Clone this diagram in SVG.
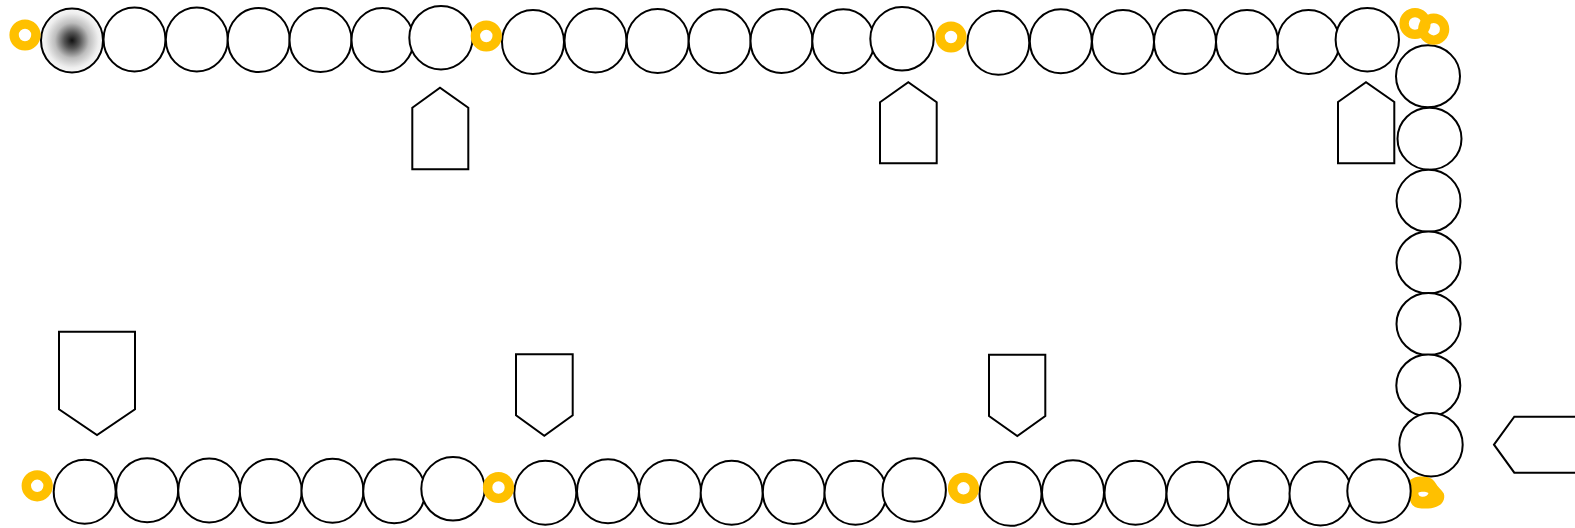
<svg xmlns="http://www.w3.org/2000/svg" width="1575" height="528" viewBox="0 0 1575 528">
<style>
.n{fill:#fff;stroke:#000;stroke-width:2}
.p{fill:#fff;stroke:#000;stroke-width:2;stroke-linejoin:miter}
.r{fill:none;stroke:#FFC000;stroke-width:9.4}
</style>
<defs>
<radialGradient id="g1" cx="0.5" cy="0.5" r="0.5">
<stop offset="0" stop-color="#111"/>
<stop offset="0.25" stop-color="#555"/>
<stop offset="0.55" stop-color="#bdbdbd"/>
<stop offset="0.85" stop-color="#eee"/>
<stop offset="1" stop-color="#f8f8f8"/>
</radialGradient>
</defs>
<rect width="1575" height="528" fill="#fff"/>
<g id="blob-br">
<path d="M1410,480 C1414,477 1418,476 1423,476.5 C1429,477 1433,478.5 1435.5,483 C1437.5,487 1441.5,489.5 1443.8,493.5 C1445.5,499 1442.5,504.5 1437,506.5 C1431,509 1424,509 1418,508 C1413.5,507 1411,504 1410,500 Z M1418.5,492.5 C1421,491.5 1426,491.5 1428.5,493 C1428,496 1424,497.5 1421,496.5 C1419,496 1418,494 1418.5,492.5 Z" fill="#FFC000" fill-rule="evenodd"/>
</g>
<g id="top-row">
<g id="t1"><ellipse class="n" cx="72" cy="40.5" rx="31" ry="32" style="fill:url(#g1)"/></g>
<g id="t2"><ellipse class="n" cx="134.5" cy="39.5" rx="31" ry="32"/></g>
<g id="t3"><ellipse class="n" cx="196.8" cy="39.5" rx="31" ry="32"/></g>
<g id="t4"><ellipse class="n" cx="258.7" cy="40" rx="31" ry="32"/></g>
<g id="t5"><ellipse class="n" cx="320.5" cy="40" rx="31" ry="32"/></g>
<g id="t6"><ellipse class="n" cx="382.5" cy="40" rx="31" ry="32"/></g>
<g id="t7"><circle class="n" cx="441" cy="37.7" r="31.7"/></g>
<g id="t8"><ellipse class="n" cx="533" cy="42" rx="31" ry="32"/></g>
<g id="t9"><ellipse class="n" cx="595.5" cy="40.5" rx="31" ry="32"/></g>
<g id="t10"><ellipse class="n" cx="657.7" cy="41" rx="31" ry="32"/></g>
<g id="t11"><ellipse class="n" cx="719.7" cy="41.3" rx="31" ry="32"/></g>
<g id="t12"><ellipse class="n" cx="781.5" cy="41" rx="31" ry="32"/></g>
<g id="t13"><ellipse class="n" cx="843.3" cy="41.3" rx="31" ry="32"/></g>
<g id="t14"><circle class="n" cx="902" cy="38.8" r="31.7"/></g>
<g id="t15"><ellipse class="n" cx="998.3" cy="42.8" rx="31" ry="32"/></g>
<g id="t16"><ellipse class="n" cx="1060.8" cy="41.3" rx="31" ry="32"/></g>
<g id="t17"><ellipse class="n" cx="1123" cy="42" rx="31" ry="32"/></g>
<g id="t18"><ellipse class="n" cx="1185" cy="42" rx="31" ry="32"/></g>
<g id="t19"><ellipse class="n" cx="1247" cy="42" rx="31" ry="32"/></g>
<g id="t20"><ellipse class="n" cx="1308.5" cy="42" rx="31" ry="32"/></g>
<g id="t21"><circle class="n" cx="1367.3" cy="39.7" r="31.7"/></g>
</g>
<g id="right-col">
<g id="c1"><ellipse class="n" cx="1428" cy="76.3" rx="32" ry="31"/></g>
<g id="c2"><ellipse class="n" cx="1429.5" cy="138.7" rx="32" ry="31"/></g>
<g id="c3"><ellipse class="n" cx="1428.5" cy="200.8" rx="32" ry="31"/></g>
<g id="c4"><ellipse class="n" cx="1428.5" cy="262.5" rx="32" ry="31"/></g>
<g id="c5"><ellipse class="n" cx="1428.5" cy="324" rx="32" ry="31"/></g>
<g id="c6"><ellipse class="n" cx="1428.3" cy="385.5" rx="32" ry="31"/></g>
<g id="c7"><circle class="n" cx="1431" cy="444.7" r="31.7"/></g>
</g>
<g id="bottom-row">
<g id="b1"><ellipse class="n" cx="84.7" cy="491.7" rx="31" ry="32"/></g>
<g id="b2"><ellipse class="n" cx="147.2" cy="490.2" rx="31" ry="32"/></g>
<g id="b3"><ellipse class="n" cx="209.2" cy="490.5" rx="31" ry="32"/></g>
<g id="b4"><ellipse class="n" cx="270.8" cy="491" rx="31" ry="32"/></g>
<g id="b5"><ellipse class="n" cx="332.5" cy="490.7" rx="31" ry="32"/></g>
<g id="b6"><ellipse class="n" cx="394.2" cy="491.3" rx="31" ry="32"/></g>
<g id="b7"><circle class="n" cx="453" cy="488.8" r="31.7"/></g>
<g id="b8"><ellipse class="n" cx="545.3" cy="492.8" rx="31" ry="32"/></g>
<g id="b9"><ellipse class="n" cx="608" cy="491.3" rx="31" ry="32"/></g>
<g id="b10"><ellipse class="n" cx="670" cy="492" rx="31" ry="32"/></g>
<g id="b11"><ellipse class="n" cx="731.7" cy="492.8" rx="31" ry="32"/></g>
<g id="b12"><ellipse class="n" cx="793.8" cy="492" rx="31" ry="32"/></g>
<g id="b13"><ellipse class="n" cx="855.5" cy="492.8" rx="31" ry="32"/></g>
<g id="b14"><circle class="n" cx="914.2" cy="490" r="31.7"/></g>
<g id="b15"><ellipse class="n" cx="1010.5" cy="493.8" rx="31" ry="32"/></g>
<g id="b16"><ellipse class="n" cx="1073" cy="492.2" rx="31" ry="32"/></g>
<g id="b17"><ellipse class="n" cx="1135.5" cy="492.8" rx="31" ry="32"/></g>
<g id="b18"><ellipse class="n" cx="1197.5" cy="493.7" rx="31" ry="32"/></g>
<g id="b19"><ellipse class="n" cx="1259.2" cy="492.8" rx="31" ry="32"/></g>
<g id="b20"><ellipse class="n" cx="1320.5" cy="493.5" rx="31" ry="32"/></g>
<g id="b21"><circle class="n" cx="1379" cy="491" r="31.7"/></g>
</g>
<g id="rings">
<g id="r1"><circle class="r" cx="25" cy="35" r="10.9"/></g>
<g id="r2"><circle class="r" cx="486.3" cy="36" r="10.9"/></g>
<g id="r3"><circle class="r" cx="951" cy="37" r="10.9"/></g>
<g id="r4"><circle class="r" cx="1415" cy="23.5" r="10.9"/></g>
<g id="r5"><circle class="r" cx="1433.7" cy="29.2" r="10.9"/></g>
<g id="r6"><circle class="r" cx="37.2" cy="485.8" r="10.9"/></g>
<g id="r7"><circle class="r" cx="498.5" cy="487.5" r="10.9"/></g>
<g id="r8"><circle class="r" cx="963.5" cy="488.3" r="10.9"/></g>
</g>
<g id="pentagons">
<g id="pu1"><polygon class="p" points="412.3,107.7 440,87.7 468.3,107.7 468.3,169.3 412.3,169.3"/></g>
<g id="pu2"><polygon class="p" points="880,102.3 908.3,82.3 936.7,102.3 936.7,163.3 880,163.3"/></g>
<g id="pu3"><polygon class="p" points="1338,102 1366,82.3 1394.3,102 1394.3,163.3 1338,163.3"/></g>
<g id="pd1"><polygon class="p" points="59,331.7 135,331.7 135,409.3 97,435 59,409.3"/></g>
<g id="pd2"><polygon class="p" points="516,354.3 572.7,354.3 572.7,415.3 544.3,435.7 516,415.3"/></g>
<g id="pd3"><polygon class="p" points="989,354.7 1045.3,354.7 1045.3,416 1017.3,436 989,416"/></g>
<g id="pl1"><polygon class="p" points="1494,444.7 1514.3,416.7 1576,416.7 1576,472.7 1514.3,472.7"/></g>
</g>
<g id="connectors"></g>
</svg>
